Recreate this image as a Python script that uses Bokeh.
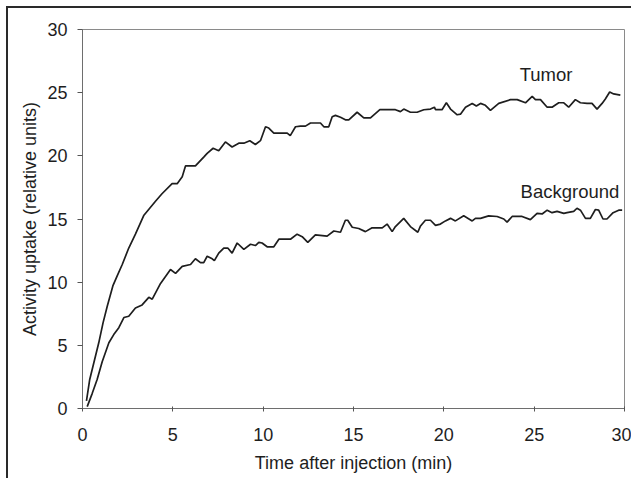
from bokeh.plotting import figure
from bokeh.models import Range1d, Label, Title, FixedTicker
from bokeh.embed import file_html
from bokeh.resources import INLINE

tumor_t = [0.22, 0.4, 0.9, 1.14, 1.37, 1.68, 1.92, 2.2, 2.56, 2.93, 3.4, 4.04, 4.4, 4.96, 5.24,
           5.52, 5.7, 6.25, 6.71, 6.9, 7.23, 7.54, 7.91, 8.28, 8.65, 8.93, 9.26, 9.57, 9.85,
           10.13, 10.31, 10.59, 11.33, 11.5, 11.79, 12.06, 12.34, 12.62, 13.17, 13.36, 13.63,
           13.82, 14.0, 14.28, 14.55, 14.74, 15.2, 15.57, 15.94, 16.46, 17.32, 17.6, 17.78,
           18.15, 18.52, 18.89, 19.26, 19.48, 19.54, 19.9, 20.14, 20.37, 20.74, 20.92, 21.2,
           21.57, 21.8, 22.03, 22.3, 22.58, 23.04, 23.69, 24.06, 24.52, 24.89, 25.07, 25.35,
           25.72, 25.99, 26.36, 26.64, 26.91, 27.28, 27.56, 27.93, 28.2, 28.48, 28.76, 28.94,
           29.18, 29.4, 29.77]
tumor_v = [0.6, 2.3, 5.2, 6.8, 8.1, 9.7, 10.5, 11.4, 12.7, 13.8, 15.3, 16.4, 17.0, 17.8, 17.8,
           18.35, 19.2, 19.2, 19.9, 20.2, 20.6, 20.4, 21.1, 20.7, 21.0, 21.0, 21.2, 20.9, 21.2,
           22.3, 22.2, 21.8, 21.8, 21.6, 22.3, 22.35, 22.35, 22.6, 22.6, 22.3, 22.3,
           23.1, 23.2, 23.05, 22.85, 22.85, 23.45, 23.0, 23.0, 23.65, 23.65, 23.5, 23.7,
           23.45, 23.45, 23.65, 23.7, 23.85, 23.65, 23.65, 24.2, 23.7, 23.25, 23.3, 23.85,
           24.15, 23.95, 24.15, 24.0, 23.6, 24.15, 24.45, 24.45, 24.2, 24.7, 24.45, 24.45,
           23.85, 23.85, 24.2, 24.2, 23.85, 24.45, 24.2, 24.15, 24.15, 23.7, 24.15, 24.5,
           25.05, 24.9, 24.8]

bg_t = [0.26, 0.54, 0.81, 1.09, 1.46, 1.73, 2.01, 2.29, 2.56, 2.93, 3.3, 3.67, 3.86, 4.32,
        4.87, 5.15, 5.52, 5.98, 6.25, 6.53, 6.71, 6.9, 7.18, 7.3, 7.54, 7.82, 8.04, 8.28,
        8.56, 8.93, 9.3, 9.57, 9.76, 9.94, 10.22, 10.59, 10.87, 11.51, 11.88, 12.16, 12.47,
        12.89, 13.54, 13.91, 14.28, 14.55, 14.68, 14.93, 15.29, 15.66, 16.03, 16.59, 16.86,
        17.14, 17.32, 17.78, 18.15, 18.56, 18.71, 18.98, 19.26, 19.54, 19.81, 20.09, 20.37,
        20.64, 21.1, 21.57, 21.75, 22.03, 22.48, 22.95, 23.32, 23.5, 23.78, 24.33, 24.79,
        25.16, 25.44, 25.72, 25.99, 26.27, 26.64, 26.82, 27.19, 27.37, 27.56, 27.84, 28.11,
        28.39, 28.57, 28.81, 29.03, 29.37, 29.68, 29.87]
bg_v = [0.15, 1.2, 2.3, 3.7, 5.2, 5.85, 6.4, 7.2, 7.3, 7.95, 8.2, 8.8, 8.65, 9.9,
        11.0, 10.7, 11.25, 11.4, 11.85, 11.55, 11.55, 12.05, 11.85, 11.7, 12.3, 12.7, 12.7, 12.3,
        13.1, 12.6, 13.0, 12.9, 13.15, 13.1, 12.8, 12.8, 13.4, 13.4, 13.8, 13.6, 13.15,
        13.75, 13.65, 14.05, 13.95, 14.9, 14.9, 14.35, 14.25, 14.0, 14.3, 14.3, 14.6,
        14.0, 14.4, 15.05, 14.4, 13.95, 14.45, 14.9, 14.9, 14.5, 14.6, 14.85, 15.05,
        14.85, 15.25, 14.85, 15.05, 15.05, 15.25, 15.2, 15.0, 14.75, 15.2, 15.2, 14.95,
        15.45, 15.4, 15.7, 15.5, 15.6, 15.45, 15.5, 15.6, 15.85, 15.7, 15.05, 15.05,
        15.75, 15.7, 15.0, 15.0, 15.5, 15.7, 15.7]

x_ticks = [0, 5, 10, 15, 20, 25, 30]
y_ticks = [0, 5, 10, 15, 20, 25, 30]
x_title = "Time after injection (min)"
y_title = "Activity uptake (relative units)"
series_names = ["Tumor", "Background"]
label_pos = [(24.2, 26.4), (24.25, 17.2)]

FONT = "Liberation Sans"
INK = "#1e1e1e"

p = figure(width=631, height=478, output_backend="svg", toolbar_location=None,
           x_range=Range1d(0, 30), y_range=Range1d(0, 30),
           min_border_left=82, min_border_right=7, min_border_top=29, min_border_bottom=70)
p.styles = {"box-shadow": "inset 6px 6px 0 0 #ffffff, inset 8px 8px 0 0 #2a2a2a"}
p.border_fill_color = None
p.background_fill_color = "white"
p.xgrid.visible = False
p.ygrid.visible = False
p.outline_line_color = "#8a8a8a"
p.outline_line_width = 1

p.xaxis.ticker = FixedTicker(ticks=x_ticks)
p.yaxis.ticker = FixedTicker(ticks=y_ticks)
for ax in (p.xaxis, p.yaxis):
    ax.axis_line_color = "#6e6e6e"
    ax.major_tick_line_color = "#555555"
    ax.minor_tick_line_color = None
    ax.major_label_text_font = FONT
    ax.major_label_text_font_size = "18px"
    ax.major_label_text_color = INK
    ax.axis_label_text_font = FONT
    ax.axis_label_text_font_size = "18px"
    ax.axis_label_text_font_style = "normal"
    ax.axis_label_text_color = INK
p.xaxis.major_tick_in = 2
p.xaxis.major_tick_out = 3
p.xaxis.major_label_standoff = 16
p.xaxis.axis_label = x_title
p.xaxis.axis_label_standoff = 9
p.yaxis.major_tick_in = 0
p.yaxis.major_tick_out = 5
p.yaxis.major_label_standoff = 10

ytitle = Title(text=y_title, align="center", offset=-11, text_font=FONT,
               text_font_size="18px", text_font_style="normal", text_color=INK, standoff=9)
p.add_layout(ytitle, "left")

p.line(tumor_t, tumor_v, line_color=INK, line_width=1.7)
p.line(bg_t, bg_v, line_color=INK, line_width=1.7)

for name, (lx, ly) in zip(series_names, label_pos):
    p.add_layout(Label(x=lx, y=ly, text=name, text_font=FONT, text_font_size="18.5px",
                       text_color=INK, text_baseline="middle", text_align="left"))

open("out.html", "w").write(file_html(p, INLINE))
